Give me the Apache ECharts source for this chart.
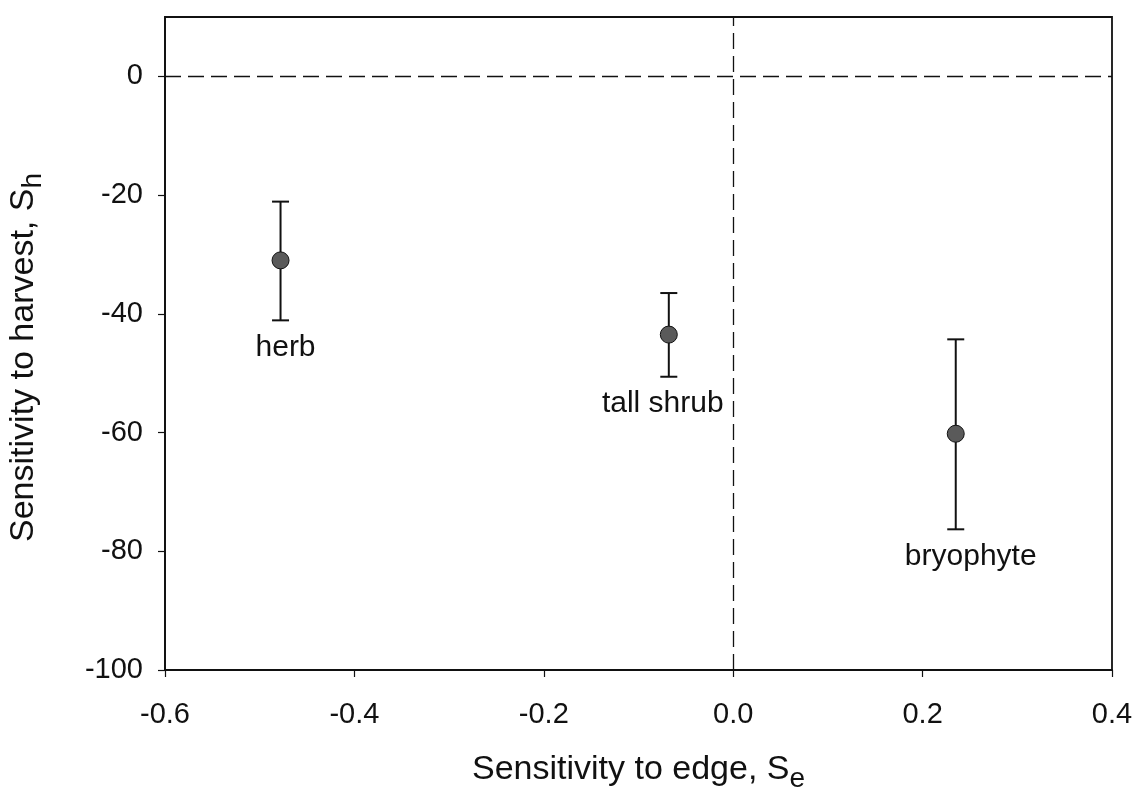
<!DOCTYPE html>
<html>
<head>
<meta charset="utf-8">
<script src="https://cdn.jsdelivr.net/npm/echarts@6/dist/echarts.min.js"></script>
<style>html,body{margin:0;padding:0;background:#fff}#c{width:1136px;height:791px}</style>
</head>
<body>
<div id="c"></div>
<script>
// Data
var groups = ['herb', 'tall shrub', 'bryophyte'];
var se = [-0.478, -0.068, 0.235];          // sensitivity to edge
var sh = [-31.0, -43.5, -60.2];            // sensitivity to harvest
var shUpper = [-21.1, -36.5, -44.3];       // error bar top
var shLower = [-41.1, -50.6, -76.3];       // error bar bottom
var xTicks = [-0.6, -0.4, -0.2, 0, 0.2, 0.4];
var yTicks = [-100, -80, -60, -40, -20, 0];

// label placement (styling, pixels)
var labelDx = [5, -6, 15];

var pts = se.map(function (x, i) { return [x, sh[i]]; });
var errs = se.map(function (x, i) { return [x, shUpper[i], shLower[i]]; });

var font = '"Liberation Sans", Arial, sans-serif';
function titleRich(extraEnd) {
  return {
    a: {fontFamily: font, fontSize: 34, color: '#111', lineHeight: 40, verticalAlign: 'top'},
    b: {fontFamily: font, fontSize: 28, color: '#111', lineHeight: 40, verticalAlign: 'top', padding: [12, extraEnd, 0, 0]}
  };
}
var chart = echarts.init(document.getElementById('c'), null, {renderer: 'canvas'});
chart.setOption({
  animation: false,
  backgroundColor: '#fff',
  grid: {left: 165, right: 24, top: 17, bottom: 121, outerBoundsMode: 'none', containLabel: false,
    show: true, borderColor: '#111', borderWidth: 1.8, backgroundColor: 'transparent'},
  xAxis: {
    type: 'value', min: -0.6, max: 0.4,
    name: '{a|Sensitivity to edge, S}{b|e}',
    nameLocation: 'middle', nameGap: 83,
    nameTextStyle: {rich: titleRich(0)},
    axisLine: {show: true, onZero: false, lineStyle: {color: '#111', width: 1.8}},
    axisTick: {show: true, inside: false, length: 7, customValues: xTicks, lineStyle: {color: '#111', width: 1.2}},
    axisLabel: {customValues: xTicks, margin: 30, fontFamily: font, fontSize: 29, color: '#111',
      formatter: function (v) { return Math.abs(v) < 1e-9 ? '0.0' : v.toFixed(1); }},
    splitLine: {show: false}
  },
  yAxis: {
    type: 'value', min: -100, max: 10,
    name: '{a|Sensitivity to harvest, S}{b|h}',
    nameLocation: 'middle', nameGap: 118,
    nameTextStyle: {rich: titleRich(28)},
    axisLine: {show: true, onZero: false, lineStyle: {color: '#111', width: 1.8}},
    axisTick: {show: true, inside: false, length: 7, customValues: yTicks, lineStyle: {color: '#111', width: 1.2}},
    axisLabel: {customValues: yTicks, margin: 22, fontFamily: font, fontSize: 29, color: '#111'},
    splitLine: {show: false}
  },
  series: [
    {
      type: 'custom',
      data: errs,
      z: 2,
      renderItem: function (params, api) {
        var x = api.value(0);
        var top = api.coord([x, api.value(1)]);
        var bot = api.coord([x, api.value(2)]);
        var cw = 8.5;
        var st = {stroke: '#111', lineWidth: 2};
        return {
          type: 'group',
          children: [
            {type: 'line', shape: {x1: top[0], y1: top[1], x2: bot[0], y2: bot[1]}, style: st},
            {type: 'line', shape: {x1: top[0] - cw, y1: top[1], x2: top[0] + cw, y2: top[1]}, style: st},
            {type: 'line', shape: {x1: bot[0] - cw, y1: bot[1], x2: bot[0] + cw, y2: bot[1]}, style: st},
            {type: 'text', x: bot[0] + labelDx[params.dataIndex], y: bot[1] + 27,
              style: {text: groups[params.dataIndex], fontFamily: font, fontSize: 30, fill: '#111', align: 'center', verticalAlign: 'middle'}}
          ]
        };
      }
    },
    {
      type: 'scatter',
      data: pts,
      z: 3,
      symbol: 'circle',
      symbolSize: 17,
      itemStyle: {color: '#5a5a5a', borderColor: '#111', borderWidth: 1, opacity: 1},
      markLine: {
        silent: true,
        symbol: ['none', 'none'],
        label: {show: false},
        lineStyle: {color: '#111', type: [16, 7], width: 1.3},
        data: [{xAxis: 0}, {yAxis: 0}]
      }
    }
  ]
});
</script>
</body>
</html>
